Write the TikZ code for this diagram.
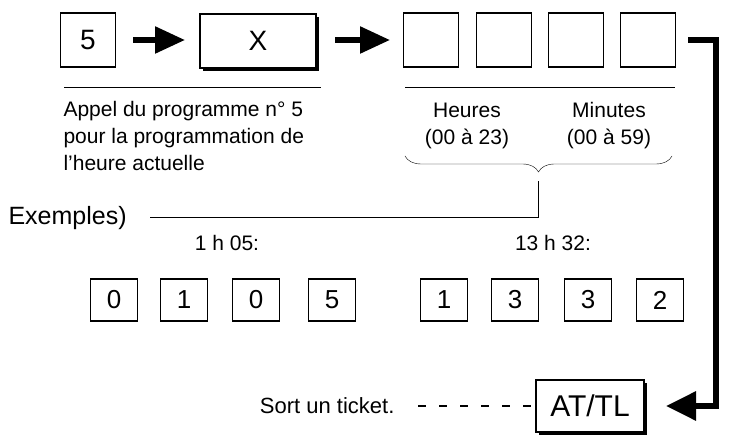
\documentclass[tikz,border=0pt]{standalone}
\usepackage{fontspec}
\setmainfont{Liberation Sans}
\usetikzlibrary{positioning,arrows.meta,shadows,decorations.pathreplacing}
\tikzset{
  key/.style={draw, line width=1.2pt, minimum width=55pt, minimum height=54pt, inner sep=0pt, font=\fontsize{28}{30}\selectfont},
  digit/.style={draw, line width=1.2pt, minimum width=47pt, minimum height=42pt, inner sep=0pt, font=\fontsize{26}{28}\selectfont},
  shade/.style={drop shadow={opacity=1, fill=black, shadow xshift=3pt, shadow yshift=-3pt}, fill=white},
  bigarrow/.style={line width=5.5pt, -{Triangle[length=30pt,width=26pt]}},
  txt/.style={font=\fontsize{21}{27}\selectfont}
}
\begin{document}
\begin{tikzpicture}[x=1pt,y=-1pt]
        \useasboundingbox (0,0) rectangle (729,443);
        % top row of keys
        \node [key] (k5) at (88,40) {5};
        \node [key, shade, minimum width=116pt] (kx) at (258,41) {X};
        \node [key] (h1) at (431,40) {};
        \node [key] (h2) at (504,40) {};
        \node [key] (m1) at (576,40) {};
        \node [key] (m2) at (648,40) {};
        \draw [bigarrow] (133,40) -- (185,40);
        \draw [bigarrow] (335,40) -- (390,40);
        % rules and captions
        \draw [line width=1pt] (64,88) -- (321,88);
        \draw [line width=1pt] (405,88) -- (675,88);
        \node [txt, anchor=north west, align=left] (appel) at (60,98) {Appel du programme n° 5\\pour la programmation de\\l'heure actuelle};
        \node [txt, align=center] (heures) at (467,126) {Heures\\(00 à 23)};
        \node [txt, align=center] (minutes) at (609,126) {Minutes\\(00 à 59)};
        \draw [decorate, decoration={brace, mirror, amplitude=16pt}] (405,156) -- (672,156);
        \coordinate (tip) at (538.5,181);
        % examples
        \node [anchor=west, font=\fontsize{25}{28}\selectfont] (ex) at (5,218) {Exemples)};
        \draw [line width=1pt] (ex.east) ++(20,0) -| (tip);
        \node [txt] (t1) at (227,243) {1 h 05:};
        \node [txt] (t2) at (553,243) {13 h 32:};
        \foreach \x/\d [count=\i] in {114/0,184/1,256/0,332/5,444/1,515/3,588/3,660/2}
          \node [digit] (d\i) at (\x,300) {\d};
        % ticket
        \node [key, shade, minimum width=108pt, minimum height=52pt, font=\fontsize{30}{32}\selectfont] (at) at (590,406) {AT/TL};
        \node [font=\fontsize{22}{26}\selectfont, anchor=east] (sort) at (398,406) {Sort un ticket.};
        \draw [line width=1.5pt, dash pattern=on 8pt off 13pt] (418,406) -- (at.west);
        \coordinate (out) at (688,40);
        \coordinate (back) at (666,406);
        \draw [line width=6pt, -{Triangle[length=30pt,width=28pt]}] (out) -- (716,40) |- (back);
      \end{tikzpicture}
\end{document}
